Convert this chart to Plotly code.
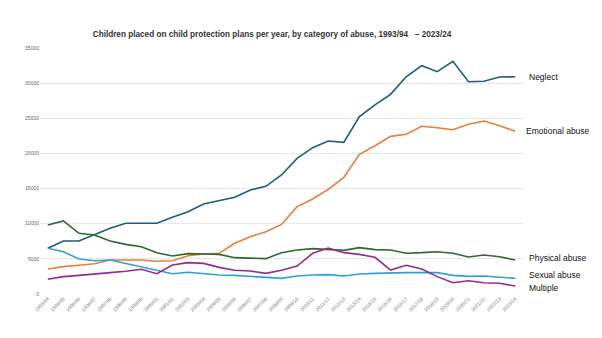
import plotly.graph_objects as go

years = ["1993/94", "1994/95", "1995/96", "1996/97", "1997/98", "1998/99", "1999/00",
         "2000/01", "2001/02", "2002/03", "2003/04", "2004/05", "2005/06", "2006/07",
         "2007/08", "2008/09", "2009/10", "2010/11", "2011/12", "2012/13", "2013/14",
         "2014/15", "2015/16", "2016/17", "2017/18", "2018/19", "2019/20", "2020/21",
         "2021/22", "2022/23", "2023/24"]

neglect = [6500, 7540, 7540, 8390, 9340, 10060, 10060, 10060, 10910, 11710, 12800,
           13280, 13760, 14800, 15320, 16930, 19300, 20820, 21770, 21580, 25230,
           26900, 28400, 30900, 32480, 31630, 33100, 30200, 30260, 30870, 30900]
emotional = [3560, 3890, 4080, 4310, 4840, 4840, 4840, 4650, 4740, 5450, 5690,
             5790, 7210, 8150, 8870, 9900, 12430, 13520, 14890, 16600, 19870,
             21100, 22430, 22720, 23860, 23660, 23380, 24140, 24610, 23950, 23150]
physical = [9820, 10390, 8630, 8390, 7540, 7060, 6730, 5880, 5410, 5740, 5690,
            5640, 5170, 5120, 5030, 5880, 6260, 6450, 6350, 6210, 6590,
            6310, 6260, 5790, 5880, 6020, 5790, 5260, 5550, 5310, 4840]
sexual = [6500, 6020, 4980, 4740, 4840, 4360, 3790, 3320, 2890, 3090, 2850,
          2700, 2650, 2560, 2370, 2230, 2560, 2700, 2750, 2560, 2850,
          2940, 3040, 3040, 3040, 3040, 2650, 2510, 2560, 2370, 2230]
multiple = [2090, 2470, 2650, 2890, 3040, 3230, 3510, 2890, 4130, 4460, 4360,
            3790, 3370, 3270, 2940, 3370, 3980, 5790, 6540, 5880, 5640,
            5220, 3410, 4080, 3560, 2470, 1610, 1890, 1610, 1520, 1140]

series = [
    ("Neglect", neglect, "#1f5a82", 12, 0),
    ("Emotional abuse", emotional, "#e67e3a", 9, 0),
    ("Physical abuse", physical, "#2e6a2b", 12, 2),
    ("Sexual abuse", sexual, "#2fa0d6", 12, 3),
    ("Multiple", multiple, "#962b8f", 12, -2),
]

fig = go.Figure()
for name, vals, col, xs, ys in series:
    fig.add_trace(go.Scatter(x=years, y=vals, mode="lines", name=name,
                             line=dict(color=col, width=1.6)))
    fig.add_annotation(x=years[-1], y=vals[-1], xref="x", yref="y", text=name,
                       showarrow=False, xanchor="left", yanchor="middle",
                       xshift=xs, yshift=ys,
                       font=dict(family="Liberation Sans, Arial", size=8.5, color="#111111"))

fig.update_layout(
    width=602, height=338,
    margin=dict(l=40, r=79, t=48, b=44),
    paper_bgcolor="white", plot_bgcolor="white",
    showlegend=False,
    title=dict(text="Children placed on child protection plans per year, by category of abuse, 1993/94   \u2013 2023/24",
               x=272 / 602, xanchor="center", y=1 - 34 / 338, yanchor="middle",
               font=dict(family="Liberation Sans, Arial", size=8.2, color="#333333", weight="bold")),
    xaxis=dict(type="category", range=[-0.5, 30.5], showgrid=False, showline=False,
               tickangle=-45, tickfont=dict(family="Liberation Sans, Arial", size=5, color="#777777"),
               ticks="", zeroline=False),
    yaxis=dict(range=[0, 35000], dtick=5000, showgrid=True, gridcolor="#e8e8e8", gridwidth=1,
               zeroline=False, showline=False, ticks="",
               tickfont=dict(family="Liberation Sans, Arial", size=5, color="#666666"),
               tickformat="d"),
)

fig.write_html("out.html")
